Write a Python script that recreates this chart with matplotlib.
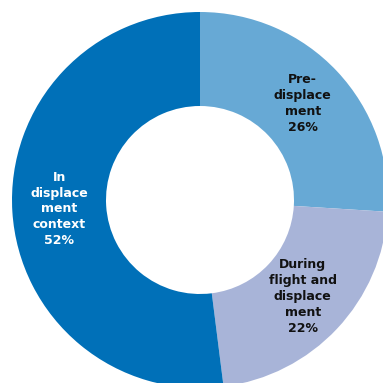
import math
import matplotlib.pyplot as plt

# share of cases by stage of displacement
stages = ["Pre-\ndisplace\nment", "During\nflight and\ndisplace\nment", "In\ndisplace\nment\ncontext"]
shares = [26, 22, 52]
colors = ["#67A9D5", "#A8B4D8", "#0070B8"]
text_colors = ["#111111", "#111111", "white"]

fig = plt.figure(figsize=(3.83, 3.83), dpi=100)
ax = fig.add_axes([0, 0, 1, 1])

wedges, _ = ax.pie(shares, colors=colors, startangle=90, counterclock=False,
                   radius=1.0, wedgeprops=dict(width=0.5, linewidth=0))

total = sum(shares)
theta = 90.0
for label, val, tc in zip(stages, shares, text_colors):
    span = 360.0 * val / total
    mid = math.radians(theta - span / 2)
    theta -= span
    r = 0.75
    ax.text(r * math.cos(mid), r * math.sin(mid), f"{label}\n{val}%",
            ha="center", va="center", color=tc, fontsize=9,
            fontweight="bold", linespacing=1.28, family="DejaVu Sans")

ax.set_xlim(-200 / 188, 183 / 188)
ax.set_ylim(-183 / 188, 200 / 188)
ax.set_aspect("equal")
ax.axis("off")

fig.savefig("out.png", dpi=100)
